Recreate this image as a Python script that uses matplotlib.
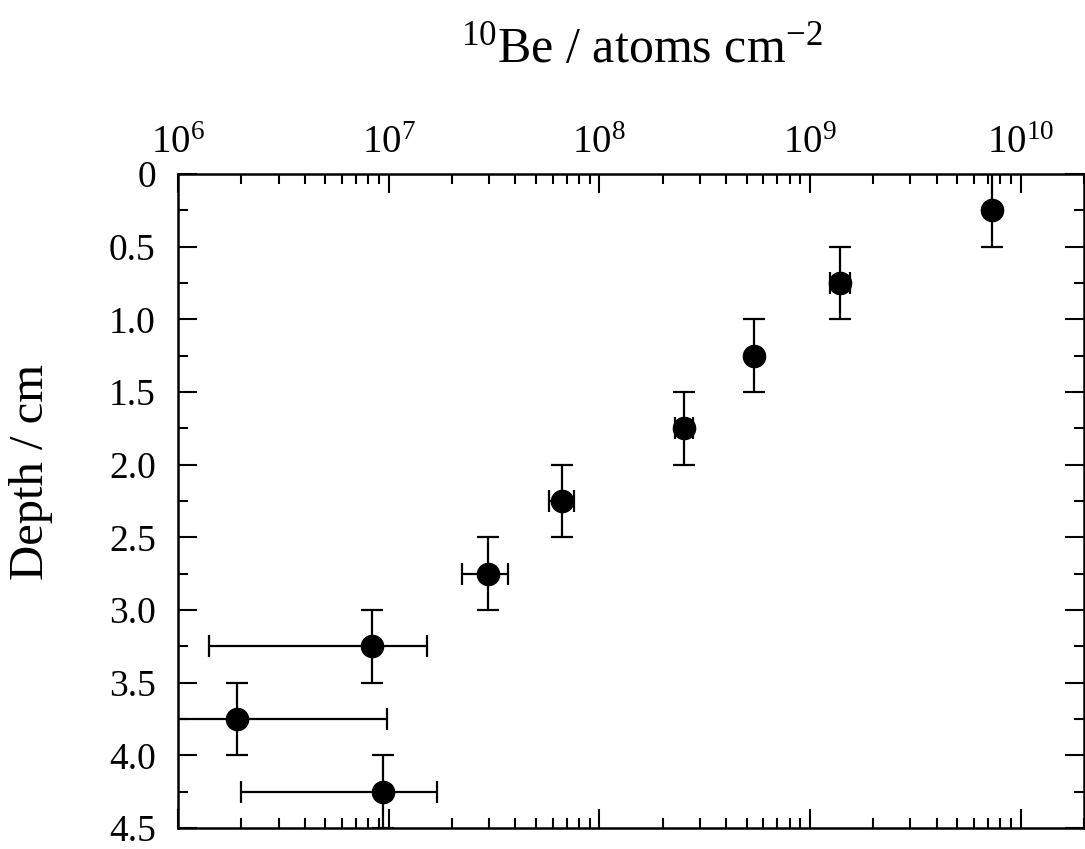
import matplotlib

matplotlib.use("Agg")
import matplotlib.pyplot as plt
from matplotlib.ticker import FixedLocator, FuncFormatter, LogLocator, MultipleLocator

plt.rcParams["font.family"] = ["Liberation Serif", "DejaVu Serif"]
plt.rcParams["mathtext.fontset"] = "custom"
plt.rcParams["mathtext.rm"] = "Liberation Serif"
plt.rcParams["mathtext.it"] = "Liberation Serif:italic"

# depth of each sample (cm) and its 10Be inventory (atoms cm^-2)
depth = [0.25, 0.75, 1.25, 1.75, 2.25, 2.75, 3.25, 3.75, 4.25]
depth_err = [0.25, 0.25, 0.25, 0.25, 0.25, 0.25, 0.25, 0.25, 0.25]
be10 = [7.3e9, 1.395e9, 5.4e8, 2.53e8, 6.67e7, 2.95e7, 8.3e6, 1.9e6, 9.45e6]
be10_err = [0.0, 0.155e9, 0.0, 0.25e8, 0.93e7, 0.72e7, 6.9e6, 7.9e6, 7.45e6]

x_lim = (1e6, 2e10)
y_lim = (4.5, 0.0)

fig = plt.figure(figsize=(10.85, 8.49), dpi=100, facecolor="white")
ax = fig.add_axes([0.16406, 0.02473, 0.83502, 0.77032])

ax.errorbar(
    be10,
    depth,
    xerr=be10_err,
    yerr=depth_err,
    fmt="o",
    color="black",
    markersize=16,
    elinewidth=1.6,
    capsize=8,
    capthick=1.6,
)

ax.set_xscale("log")
ax.set_xlim(*x_lim)
ax.set_ylim(*y_lim)

ax.xaxis.set_major_locator(LogLocator(base=10, numticks=12))
ax.xaxis.set_minor_locator(LogLocator(base=10, subs=range(2, 10), numticks=12))
ax.yaxis.set_major_locator(MultipleLocator(0.5))
ax.yaxis.set_minor_locator(MultipleLocator(0.25))
ax.yaxis.set_major_formatter(FuncFormatter(lambda v, p: "0" if abs(v) < 1e-9 else f"{v:.1f}"))

ax.tick_params(which="both", direction="in", top=True, bottom=True, left=True, right=True,
               width=1.5, labeltop=True, labelbottom=False)
ax.tick_params(which="major", length=14)
ax.tick_params(which="minor", length=7)
ax.tick_params(axis="x", which="major", labelsize=28, pad=9)
ax.tick_params(axis="y", which="major", labelsize=27, pad=16)

for s in ax.spines.values():
    s.set_linewidth(1.8)

fig.text(642 / 1085, 1 - 62 / 849, r"$^{10}$Be / atoms cm$^{-2}$", fontsize=36,
         ha="center", va="baseline")
fig.text(31 / 1085, 1 - 472 / 849, "Depth / cm", fontsize=35, rotation=90,
         ha="center", va="center")

fig.savefig("out.png", dpi=100, facecolor="white")
